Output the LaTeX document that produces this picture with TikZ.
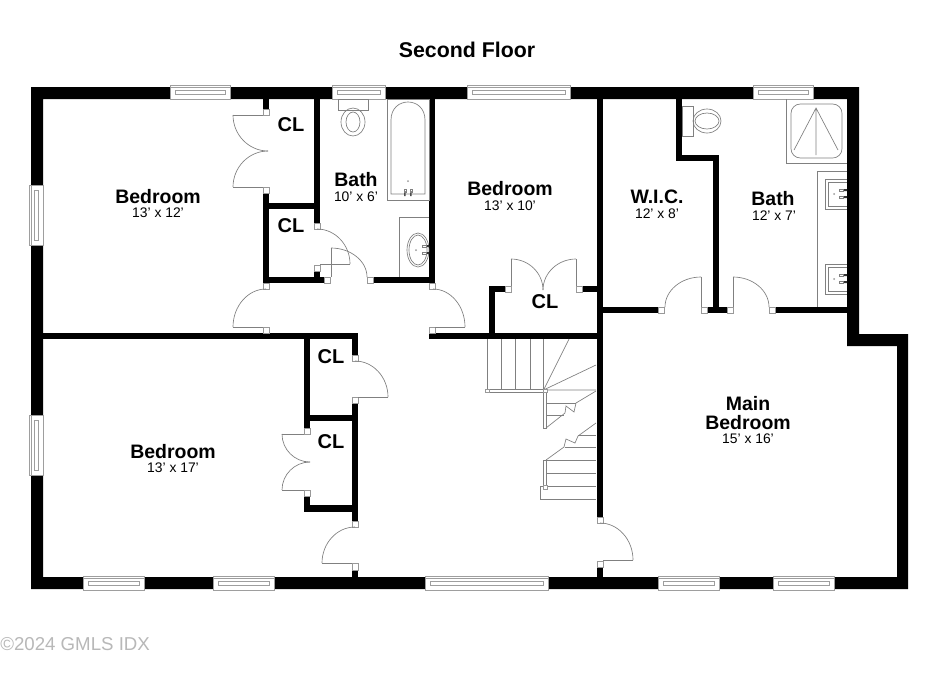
\documentclass[tikz,border=0pt]{standalone}
\usepackage{fontspec}
\setmainfont{Liberation Sans}
\newcommand{\wl}[4]{\fill[black] (#1,#2) rectangle (#3,#4);}
\newcommand{\jb}[4]{\draw[jambbox] (#1,#2) rectangle (#3,#4);}
\newcommand{\ah}[4]{\draw[fine] (#1,#2) .. controls ({#1+.55*(#3-#1)},#2) and (#3,{#4-.55*(#4-#2)}) .. (#3,#4);}
\newcommand{\av}[4]{\draw[fine] (#1,#2) .. controls (#1,{#2+.55*(#4-#2)}) and ({#3-.55*(#3-#1)},#4) .. (#3,#4);}
\newcommand{\lnn}[4]{\draw[fine] (#1,#2) -- (#3,#4);}
\newcommand{\winh}[3]{% x1 x2 y-centre
  \draw[winline,fill=white] (#1,{#3-7}) rectangle (#2,{#3+7});
  \draw[winline] ({#1+5},{#3-2}) rectangle ({#2-5},{#3+2});
  \draw[winline] (#1,{#3-5}) -- (#2,{#3-5});}
\newcommand{\winv}[3]{% y1 y2 x-centre
  \draw[winline,fill=white] ({#3-7},#1) rectangle ({#3+7},#2);
  \draw[winline] ({#3-2},{#1+5}) rectangle ({#3+2},{#2-5});
  \draw[winline] ({#3-5},#1) -- ({#3-5},#2);}
\begin{document}
\begin{tikzpicture}[x=0.75pt,y=-0.75pt,
  fine/.style={draw=black!50,line width=0.5pt},
  winline/.style={draw=black!38,line width=0.5pt},
  jambbox/.style={draw=black!40,fill=white,line width=0.45pt},
  roomname/.style={font=\bfseries\fontsize{14.6pt}{14.6pt}\selectfont,align=center,inner sep=0pt},
  roomsize/.style={font=\fontsize{10.4pt}{11pt}\selectfont,inner sep=0pt},
  clname/.style={font=\bfseries\fontsize{15pt}{15pt}\selectfont,inner sep=0pt}]
\useasboundingbox (0,0) rectangle (930,676);
\fill[white] (0,0) rectangle (930,676);
% outer wall
\fill[black,even odd rule] (31,87) -- (859,87) -- (859,334) -- (908,334) -- (908,589) -- (31,589) -- cycle
 (43,99) -- (43,577) -- (897,577) -- (897,346) -- (847,346) -- (847,99) -- cycle;
% interior walls
\wl{263}{99}{269}{109}
\wl{314}{99}{320}{223}
\wl{263}{193}{269}{283}
\wl{263}{203}{320}{209}
\wl{263}{277}{324}{283}
\wl{314}{271}{320}{277}
\wl{373}{277}{435}{283}
\wl{429}{99}{435}{283}
\wl{43}{333}{358}{339}
\wl{429}{333}{597}{339}
\wl{352}{333}{358}{355}
\wl{352}{403}{358}{521}
\wl{352}{570}{358}{577}
\wl{304}{339}{310}{428}
\wl{304}{415}{358}{421}
\wl{304}{496}{310}{512}
\wl{304}{505}{358}{512}
\wl{489}{286}{495}{333}
\wl{489}{286}{505}{292}
\wl{582}{286}{597}{292}
\wl{597}{99}{603}{517}
\wl{597}{567}{603}{577}
\wl{603}{307}{658}{313}
\wl{676}{99}{682}{161}
\wl{676}{155}{719}{161}
\wl{713}{155}{719}{307}
\wl{707}{307}{727}{313}
\wl{775}{307}{847}{313}
% windows
\winh{170}{230}{92}\winh{332}{385}{92}\winh{467}{570}{92}\winh{753}{813}{92}
\winh{83}{144}{583}\winh{213}{274}{583}\winh{425}{548}{583}\winh{658}{719}{583}\winh{773}{834}{583}
\winv{185}{245}{36}\winv{415}{475}{36}
% jambs
\jb{263}{109}{269}{115}\jb{263}{187}{269}{193}
\jb{314}{223}{320}{229}\jb{314}{265}{320}{271}
\jb{324}{277}{330}{283}\jb{367}{277}{373}{283}
\jb{263}{283}{269}{289}\jb{263}{327}{269}{333}
\jb{429}{283}{435}{289}\jb{429}{327}{435}{333}
\jb{505}{286}{511}{292}\jb{576}{286}{582}{292}
\jb{352}{355}{358}{361}\jb{352}{397}{358}{403}
\jb{304}{428}{310}{434}\jb{304}{490}{310}{496}
\jb{352}{521}{358}{527}\jb{352}{563}{358}{570}
\jb{597}{517}{603}{523}\jb{597}{561}{603}{567}
\jb{658}{307}{664}{313}\jb{701}{307}{707}{313}
\jb{727}{307}{733}{313}\jb{769}{307}{775}{313}
% doors
\lnn{233}{115}{263}{115}\av{233}{115}{268}{151}
\ah{268}{151}{233}{187}
\lnn{233}{187}{263}{187}
\ah{317}{229}{350}{264}\lnn{350}{264}{320}{264}
\ah{331}{248}{367}{277}\lnn{331}{248}{331}{277}
\ah{266}{289}{233}{327}\lnn{233}{327}{263}{327}
\ah{433}{289}{465}{327}\lnn{465}{327}{435}{327}
\lnn{511}{259}{511}{286}\ah{511}{259}{543}{290}
\lnn{576}{259}{576}{286}\ah{576}{259}{543}{290}
\ah{355}{361}{388}{397}\lnn{388}{397}{358}{397}
\lnn{282}{434}{304}{434}\av{282}{434}{310}{462}
\ah{310}{462}{282}{490}\lnn{282}{490}{304}{490}
\ah{355}{527}{322}{563}\lnn{322}{563}{352}{563}
\ah{600}{523}{633}{560}\lnn{633}{560}{603}{560}
\lnn{701}{277}{701}{307}\ah{701}{277}{665}{307}
\lnn{733}{277}{733}{307}\ah{733}{277}{769}{307}
% tub, toilet, sink (bath 1)
\draw[fine] (387,99) rectangle (429,200);
\draw[fine] (391,194) -- (391,120) .. controls (391,96) and (425,96) .. (425,120) -- (425,194) -- cycle;
\fill[black!70] (404,191) rectangle (405.5,196) (410,191) rectangle (411.5,196);
\draw[fine] (404,189) rectangle (406,192) (410,189) rectangle (412,192);
\fill[black!40] (408,181) circle (1);
\draw[fine] (338,99) rectangle (368,110);
\draw[fine] (353,122) ellipse (12 and 14) (353,122) ellipse (7 and 10);
\draw[fine] (429,217) -- (399,217) -- (399,277);
\draw[fine] (418,250) ellipse (11 and 17) (418,250) ellipse (9 and 15);
\fill[black!80] (426,245) rectangle (429,247) (426,252) rectangle (429,254);
\draw[fine] (422,245) rectangle (426,247) (422,252) rectangle (426,254);
\fill[black!40] (416,250) circle (1);
% bath 2
\draw[fine] (682,106) rectangle (693,136);
\draw[fine] (707,121) ellipse (14 and 12) (707,121) ellipse (12 and 8);
\draw[fine] (786,99) -- (786,163) -- (847,163);
\draw[fine,rounded corners=7pt] (791,104) rectangle (842,158);
\draw[fine] (794,150) -- (816,108) -- (838,150) (816,108) -- (816,155);
\draw[fine] (847,171) -- (817,171) -- (817,307);
\foreach \yy in {179,264}{
  \draw[fine] (847,\yy) -- (825,\yy) -- (825,{\yy+30}) -- (847,{\yy+30});
  \draw[fine] (847,{\yy+3}) -- (828,{\yy+3}) -- (828,{\yy+27}) -- (847,{\yy+27});
  \fill[black!80] (843,{\yy+10}) rectangle (847,{\yy+12}) (843,{\yy+17}) rectangle (847,{\yy+19});
  \draw[fine] (839,{\yy+10}) rectangle (843,{\yy+12}) (839,{\yy+17}) rectangle (843,{\yy+19});
  \fill[black!40] (834,{\yy+15}) circle (1);
}
% stairs
\foreach \xx in {487,501.5,515.5,530,543.5}{\draw[fine] (\xx,339) -- (\xx,390);}
\draw[fine] (487,389) rectangle (544,392);
\draw[jambbox] (485,389) rectangle (489,392);
\draw[fine] (543.5,390) -- (569,339) (543.5,390) -- (596,365) (546,390) -- (596,390);
\draw[fine] (543,390) rectangle (546,428);
\draw[fine] (546,428) -- (565,413) -- (566,406) -- (574,412) -- (576,403) -- (596,391);
\draw[fine] (546,403) -- (576,403) (546,415) -- (564,415);
\draw[jambbox] (543,389) rectangle (547,392);
\draw[fine] (596,423) -- (578,436) -- (575,443) -- (566,439) -- (564,447) -- (546,460);
\draw[fine] (578,435) -- (596,435) (565,447) -- (596,447) (546,460) -- (596,460) (546,473) -- (596,473) (540,486) -- (596,486) (540,499) -- (596,499) (540,486) -- (540,499);
\draw[fine] (543,460) rectangle (546,486);
\draw[jambbox] (543,485) rectangle (547,489);
% labels
\node[font=\bfseries\fontsize{16pt}{17pt}\selectfont,inner sep=0pt] (title) at (467,50) {Second Floor};
\node[roomname] (bed1) at (158,196.5) {Bedroom};
\node[roomsize] (bed1s) at (158,213) {13' x 12'};
\node[clname] (cl1) at (291,125) {CL};
\node[clname] (cl2) at (291,226) {CL};
\node[roomname] (bath1) at (356,180) {Bath};
\node[roomsize] (bath1s) at (356,197) {10' x 6'};
\node[roomname] (bed2) at (510,188.5) {Bedroom};
\node[roomsize] (bed2s) at (510,205.5) {13' x 10'};
\node[clname] (cl3) at (545,302) {CL};
\node[roomname] (wic) at (657,197) {W.I.C.};
\node[roomsize] (wics) at (657,214) {12' x 8'};
\node[roomname] (bath2) at (773,199) {Bath};
\node[roomsize] (bath2s) at (774,216) {12' x 7'};
\node[clname] (cl4) at (331,357) {CL};
\node[clname] (cl5) at (331,442) {CL};
\node[roomname] (bed3) at (173,451.5) {Bedroom};
\node[roomsize] (bed3s) at (173,468) {13' x 17'};
\node[roomname] (main) at (748,413) {Main\\[-0.5pt]Bedroom};
\node[roomsize] (mains) at (748,439) {15' x 16'};
\node[font=\fontsize{14pt}{16pt}\selectfont,text=black!28,anchor=west,inner sep=0pt] (copy) at (0,644) {©2024 GMLS IDX};
\end{tikzpicture}
\end{document}
